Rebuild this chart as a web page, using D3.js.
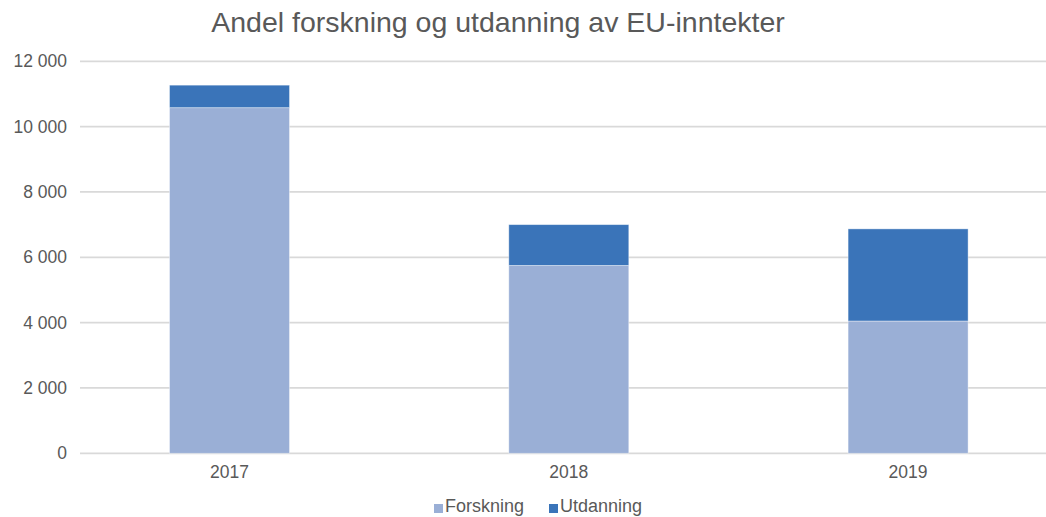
<!DOCTYPE html>
<html>
<head>
<meta charset="utf-8">
<script src="https://cdn.jsdelivr.net/npm/d3@7"></script>
<style>
  body { margin: 0; background: #fff; }
  svg { display: block; font-family: "Liberation Sans", Arial, sans-serif; }
</style>
</head>
<body>
<svg id="chart"></svg>
<script>
const years = ["2017", "2018", "2019"];
const forskning = [10580, 5750, 4050];
const utdanning = [690, 1250, 2820];
const seriesNames = ["Forskning", "Utdanning"];
const yTicks = [0, 2000, 4000, 6000, 8000, 10000, 12000];

const width = 1046, height = 517;
const colors = { Forskning: "#9aafd6", Utdanning: "#3a74b9" };

const svg = d3.select("#chart").attr("width", width).attr("height", height);

const rows = years.map((y, i) => ({ year: y, Forskning: forskning[i], Utdanning: utdanning[i] }));
const stacked = d3.stack().keys(seriesNames)(rows);

const x = d3.scaleBand(years, [80, 1057.6]).paddingInner(0.6463).paddingOuter(0.2638);
const y = d3.scaleLinear([0, 12000], [453.3, 61.3]);

const fmt = v => d3.format(",")(v).replace(/,/g, " ");

// gridlines
svg.append("g")
   .selectAll("line")
   .data(yTicks)
   .join("line")
   .attr("x1", 80).attr("x2", width)
   .attr("y1", d => y(d)).attr("y2", d => y(d))
   .attr("stroke", "#d9d9d9")
   .attr("stroke-width", 1.8);

// y labels
svg.append("g")
   .selectAll("text")
   .data(yTicks)
   .join("text")
   .attr("x", 67)
   .attr("y", d => y(d))
   .attr("dy", "0.35em")
   .attr("text-anchor", "end")
   .attr("font-size", 17.5)
   .attr("fill", "#595959")
   .text(fmt);

// bars
svg.append("g")
   .selectAll("g")
   .data(stacked)
   .join("g")
   .attr("fill", d => colors[d.key])
   .selectAll("rect")
   .data(d => d)
   .join("rect")
   .attr("x", d => x(d.data.year))
   .attr("width", x.bandwidth())
   .attr("y", d => y(d[1]))
   .attr("height", d => y(d[0]) - y(d[1]))
   .attr("stroke", "#ffffff")
   .attr("stroke-opacity", 0.5)
   .attr("stroke-width", 0.8);

// x labels
svg.append("g")
   .selectAll("text")
   .data(years)
   .join("text")
   .attr("x", d => x(d) + x.bandwidth() / 2)
   .attr("y", 478)
   .attr("text-anchor", "middle")
   .attr("font-size", 17.5)
   .attr("fill", "#595959")
   .text(d => d);

// title
svg.append("text")
   .attr("x", 498)
   .attr("y", 32)
   .attr("text-anchor", "middle")
   .attr("font-size", 28.5)
   .attr("fill", "#595959")
   .text("Andel forskning og utdanning av EU-inntekter");

// legend
const legendX = [434, 549];
const lg = svg.append("g")
   .selectAll("g")
   .data(seriesNames)
   .join("g")
   .attr("transform", (d, i) => `translate(${legendX[i]},0)`);
lg.append("rect")
  .attr("x", 0).attr("y", 504)
  .attr("width", 9).attr("height", 9)
  .attr("fill", d => colors[d]);
lg.append("text")
  .attr("x", 11)
  .attr("y", 512)
  .attr("font-size", 18)
  .attr("fill", "#595959")
  .text(d => d);
</script>
</body>
</html>
